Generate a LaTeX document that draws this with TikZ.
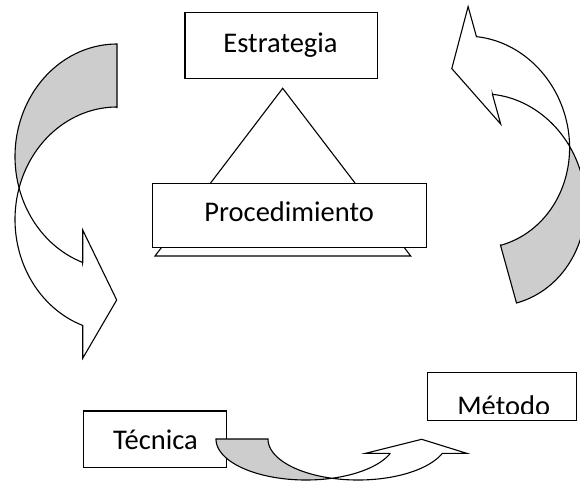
\documentclass[tikz,border=0pt]{standalone}
\usepackage{fontspec}
\setmainfont{Carlito}
\definecolor{backgray}{RGB}{205,205,205}
\newcommand\drawribbonshape{%
  % back (shaded) face
  \path[back] (117,44)
    -- plot[domain=270:163.74,samples=60] ({117+102*cos(\x)},{156.5+112.5*sin(\x)})
    -- (19.08,188)
    -- plot[domain=196.26:270,samples=60] ({117+102*cos(\x)},{219.5+112.5*sin(\x)})
    -- (117,108) -- cycle;
  % front face with arrow head
  \path[front] (19.08,188)
    -- plot[domain=163.74:109.65,samples=60] ({117+102*cos(\x)},{156.5+112.5*sin(\x)})
    -- (82.7,262.45) -- (82.7,230) -- (116.7,300) -- (82.7,358.3) -- (82.7,325.45)
    -- plot[domain=109.65:196.26,samples=60] ({117+102*cos(\x)},{219.5+112.5*sin(\x)})
    -- cycle;
}
\begin{document}
\begin{tikzpicture}[x=1pt,y=-1pt,line width=1.1pt,
  box/.style={draw,fill=white,rectangle,inner sep=0pt,outer sep=0pt},
  lbl/.style={inner sep=0pt,outer sep=0pt,anchor=base,font=\fontsize{28.5}{34}\selectfont},
  back/.style={draw,fill=backgray,line join=miter},
  front/.style={draw,fill=white,line join=miter}]
\useasboundingbox (0,0) rectangle (580,483);
\fill[white] (0,0) rectangle (580,483);
\begin{scope}
\clip (0,0) rectangle (580,483);

% pyramid
\coordinate (apex) at (282.7,88.3);
\coordinate (baseL) at (155,256);
\coordinate (baseR) at (410.7,256);
\draw[line join=miter] (apex) -- (baseR) -- (baseL) -- cycle;

% boxes and labels
\node[box,minimum width=274pt,minimum height=64pt] (proc) at (289.7,215.3) {};
\node[lbl] (procT) at (289.2,221.7) {Procedimiento};

\node[box,minimum width=192.3pt,minimum height=65.6pt] (estr) at (281.15,45.5) {};
\node[lbl] (estrT) at (280.5,52.7) {Estrategia};

% left curved arrow
\drawribbonshape

% right curved arrow (same shape, turned)
\begin{scope}[shift={(516.5,303)},rotate=-164.5,scale=0.95,shift={(-117,-44)}]
\drawribbonshape
\end{scope}

% Tecnica and Metodo boxes
\node[box,minimum width=143.4pt,minimum height=56.7pt] (tec) at (155,439.35) {};
\node[lbl] (tecT) at (155.5,449.3) {Técnica};

\node[box,minimum width=149.4pt,minimum height=48pt] (met) at (502,396.3) {};
\begin{scope}
\clip (428,373) rectangle (576,413.3);
\node[lbl] (metT) at (503.7,415) {Método};
\end{scope}

% bottom curved arrow
\path[back] (216,439)
  -- plot[domain=180:73.2,samples=60] ({306+90*cos(\x)},{439+41*sin(\x)})
  -- (332,478.25)
  -- plot[domain=106.8:180,samples=60] ({358+90*cos(\x)},{439+41*sin(\x)})
  -- (268,439) -- cycle;
\path[front] (332,478.25)
  -- plot[domain=106.8:20.4,samples=60] ({358+90*cos(\x)},{439+41*sin(\x)})
  -- (442.36,453.29) -- (466.7,453.3) -- (421.7,439.3) -- (365.7,453.3) -- (390.36,453.29)
  -- plot[domain=20.4:73.2,samples=60] ({306+90*cos(\x)},{439+41*sin(\x)})
  -- cycle;
\end{scope}
\end{tikzpicture}
\end{document}
